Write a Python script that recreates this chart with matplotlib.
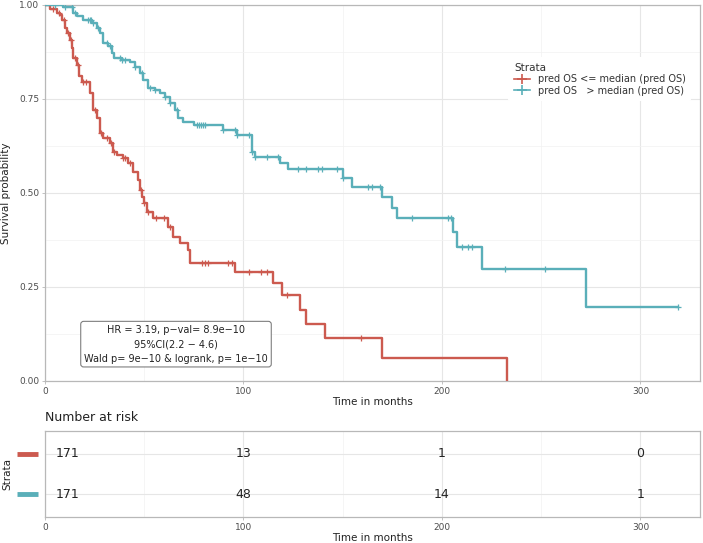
import numpy as np
import matplotlib
matplotlib.use("Agg")
import matplotlib.pyplot as plt
from matplotlib.ticker import MultipleLocator
import matplotlib.transforms as mtransforms

# Kaplan-Meier steps: event time (months), survival after the drop
low_times = [2.5, 6, 7.6, 8.6, 10, 11, 12.6, 13.6, 14.1, 16.1, 17.1, 18.6, 22.7, 24.2,
             26.2, 27.7, 29.2, 32.7, 34.3, 36.3, 39.3, 41.8, 44.3, 46.9, 47.9, 48.9,
             49.8, 51.4, 54.4, 62, 64.5, 68, 72, 73, 95.7, 114.9, 119.4, 128.5, 131.5,
             141, 170, 232.7]
low_surv = [0.99, 0.98, 0.973, 0.96, 0.94, 0.925, 0.907, 0.885, 0.86, 0.84, 0.81, 0.795,
            0.766, 0.72, 0.70, 0.66, 0.646, 0.633, 0.61, 0.60, 0.593, 0.58, 0.556, 0.535,
            0.508, 0.49, 0.473, 0.45, 0.433, 0.41, 0.383, 0.367, 0.348, 0.314, 0.29,
            0.26, 0.229, 0.189, 0.152, 0.114, 0.061, 0.0]
low_censor = [4, 7, 9.5, 11.5, 13, 15, 16.5, 19, 20.5, 25, 28, 31, 33.5, 35, 39.5, 40.5,
              43, 48.5, 50, 52, 56, 60, 63, 79, 80.6, 82, 92, 94, 103, 109, 112, 122, 159]

high_times = [9, 14, 16, 19, 23.7, 26, 27.7, 29, 31.7, 33.8, 35, 38.8, 42.8, 45.3, 47.9,
              49.4, 51.9, 55.4, 58, 60.5, 63, 65.5, 67, 69.5, 75, 89.7, 96.7, 104.3,
              105.8, 118.4, 122.4, 150, 154.7, 169.8, 174.8, 177.3, 205.5, 207.6, 220,
              272.5]
high_surv = [0.994, 0.98, 0.97, 0.96, 0.952, 0.94, 0.925, 0.90, 0.89, 0.872, 0.86, 0.854,
             0.848, 0.835, 0.82, 0.80, 0.78, 0.774, 0.766, 0.755, 0.74, 0.72, 0.70, 0.69,
             0.68, 0.667, 0.654, 0.61, 0.596, 0.58, 0.564, 0.54, 0.516, 0.49, 0.46,
             0.434, 0.396, 0.356, 0.298, 0.197]
high_censor = [5, 10, 13.6, 15, 21.7, 22.5, 23.3, 24.2, 26.7, 31.2, 32.7, 37.8, 39, 40.3,
               45.3, 48.9, 52.9, 55.4, 60.5, 63, 66.5, 76.6, 77.6, 78.6, 79.6, 80.6,
               89.7, 95.5, 96.7, 103, 104.3, 105.8, 111.8, 117.4, 127.5, 131.5, 137.5,
               139.5, 147, 150, 162.7, 164.7, 168.8, 184.9, 203, 204.5, 210, 213, 215,
               232, 252, 319]

strata_labels = ["pred OS <= median (pred OS)", "pred OS   > median (pred OS)"]
colors = ["#CC5A4F", "#5AAFB9"]

risk_times = [0, 100, 200, 300]
risk_low = [171, 13, 1, 0]
risk_high = [171, 48, 14, 1]

stats_text = "HR = 3.19, p\u2212val= 8.9e\u221210\n95%CI(2.2 \u2212 4.6)\nWald p= 9e\u221210 & logrank, p= 1e\u221210"

xmax = 330
grid_major = "#E6E6E6"
grid_minor = "#F2F2F2"
border = "#B8B8B8"
tick_col = "#4D4D4D"


def surv_at(times, surv, t):
    idx = np.searchsorted(times, t, side="right")
    vals = np.concatenate([[1.0], surv])
    return vals[idx]


def style_axes(ax):
    ax.set_xlim(0, xmax)
    ax.xaxis.set_major_locator(MultipleLocator(100))
    ax.xaxis.set_minor_locator(MultipleLocator(50))
    ax.grid(which="major", color=grid_major, lw=0.8)
    ax.grid(which="minor", color=grid_minor, lw=0.5)
    ax.set_axisbelow(True)
    for sp in ax.spines.values():
        sp.set_color(border)
        sp.set_linewidth(0.9)
    ax.tick_params(which="major", length=2.5, width=0.6, color=border,
                   labelsize=6.5, labelcolor=tick_col, pad=1.5)
    ax.tick_params(which="minor", length=0)


W, H = 703, 543
fig = plt.figure(figsize=(W / 100, H / 100), dpi=100)
ax = fig.add_axes([45 / W, 1 - 381 / H, 655 / W, 376 / H])
axr = fig.add_axes([45 / W, 1 - 517 / H, 655 / W, 86 / H])

style_axes(ax)
ax.set_ylim(0, 1)
ax.yaxis.set_major_locator(MultipleLocator(0.25))
ax.yaxis.set_minor_locator(MultipleLocator(0.125))
ax.set_yticklabels([], minor=True)
ax.yaxis.set_major_formatter(matplotlib.ticker.FormatStrFormatter("%.2f"))

groups = [(low_times, low_surv, low_censor), (high_times, high_surv, high_censor)]
for (tt, ss, cc), col, lab in zip(groups, colors, strata_labels):
    # curve runs on to the last follow-up time
    end = max(tt[-1], cc[-1])
    x = np.concatenate([[0], tt, [end]])
    y = np.concatenate([[1.0], ss, [ss[-1]]])
    ax.step(x, y, where="post", color=col, lw=1.7, zorder=3)
    cy = surv_at(np.array(tt), np.array(ss), np.array(cc))
    ax.plot(cc, cy, ls="none", marker="|", ms=5, mew=0.9, color=col, zorder=4)
    ax.plot(cc, cy, ls="none", marker="_", ms=5, mew=0.9, color=col, zorder=4)
    ax.plot([], [], color=col, lw=1.2, marker="+", ms=7, mew=1.2, label=lab)

ax.set_xlabel("Time in months", fontsize=7.5, color="#222222", labelpad=1)
ax.set_ylabel("Survival probability", fontsize=7.5, color="#222222", labelpad=6)

leg = ax.legend(loc="upper left", bbox_to_anchor=(0.70, 0.875), title="Strata",
                fontsize=7, title_fontsize=7.5, frameon=True, handlelength=1.6,
                labelspacing=0.15, borderpad=0.6)
leg.get_frame().set_edgecolor("none")
leg.get_frame().set_facecolor("white")
leg.get_frame().set_alpha(1)
leg._legend_box.align = "left"
for t in leg.get_texts():
    t.set_color("#333333")
leg.get_title().set_color("#333333")

ax.text(0.2, 0.098, stats_text, transform=ax.transAxes, ha="center", va="center",
        fontsize=7, color="#222222", linespacing=1.55,
        bbox=dict(boxstyle="round,pad=0.35,rounding_size=0.3", fc="white",
                  ec="#7F7F7F", lw=0.8))

# risk table
style_axes(axr)
axr.set_ylim(0.45, 2.55)
axr.set_yticks([1, 2])
axr.set_yticklabels([])
axr.tick_params(axis="y", length=0)
axr.set_xlabel("Time in months", fontsize=7.5, color="#222222", labelpad=1)
axr.set_ylabel("Strata", fontsize=7.5, color="#222222", labelpad=22)
axr.set_title("Number at risk", loc="left", fontsize=9, color="#222222", pad=7)

for row, (vals, col) in zip([2, 1], [(risk_low, colors[0]), (risk_high, colors[1])]):
    for t, v in zip(risk_times, vals):
        off = 16 if t == 0 else 0
        axr.annotate(str(v), (t, row), xytext=(off, 0), textcoords="offset points",
                     ha="center", va="center", fontsize=9, color="#222222")
    trans = mtransforms.blended_transform_factory(axr.transAxes, axr.transData)
    axr.plot([-0.043, -0.01], [row, row], transform=trans, color=col, lw=3.5,
             clip_on=False, solid_capstyle="butt")

fig.savefig("out.png", dpi=100)
